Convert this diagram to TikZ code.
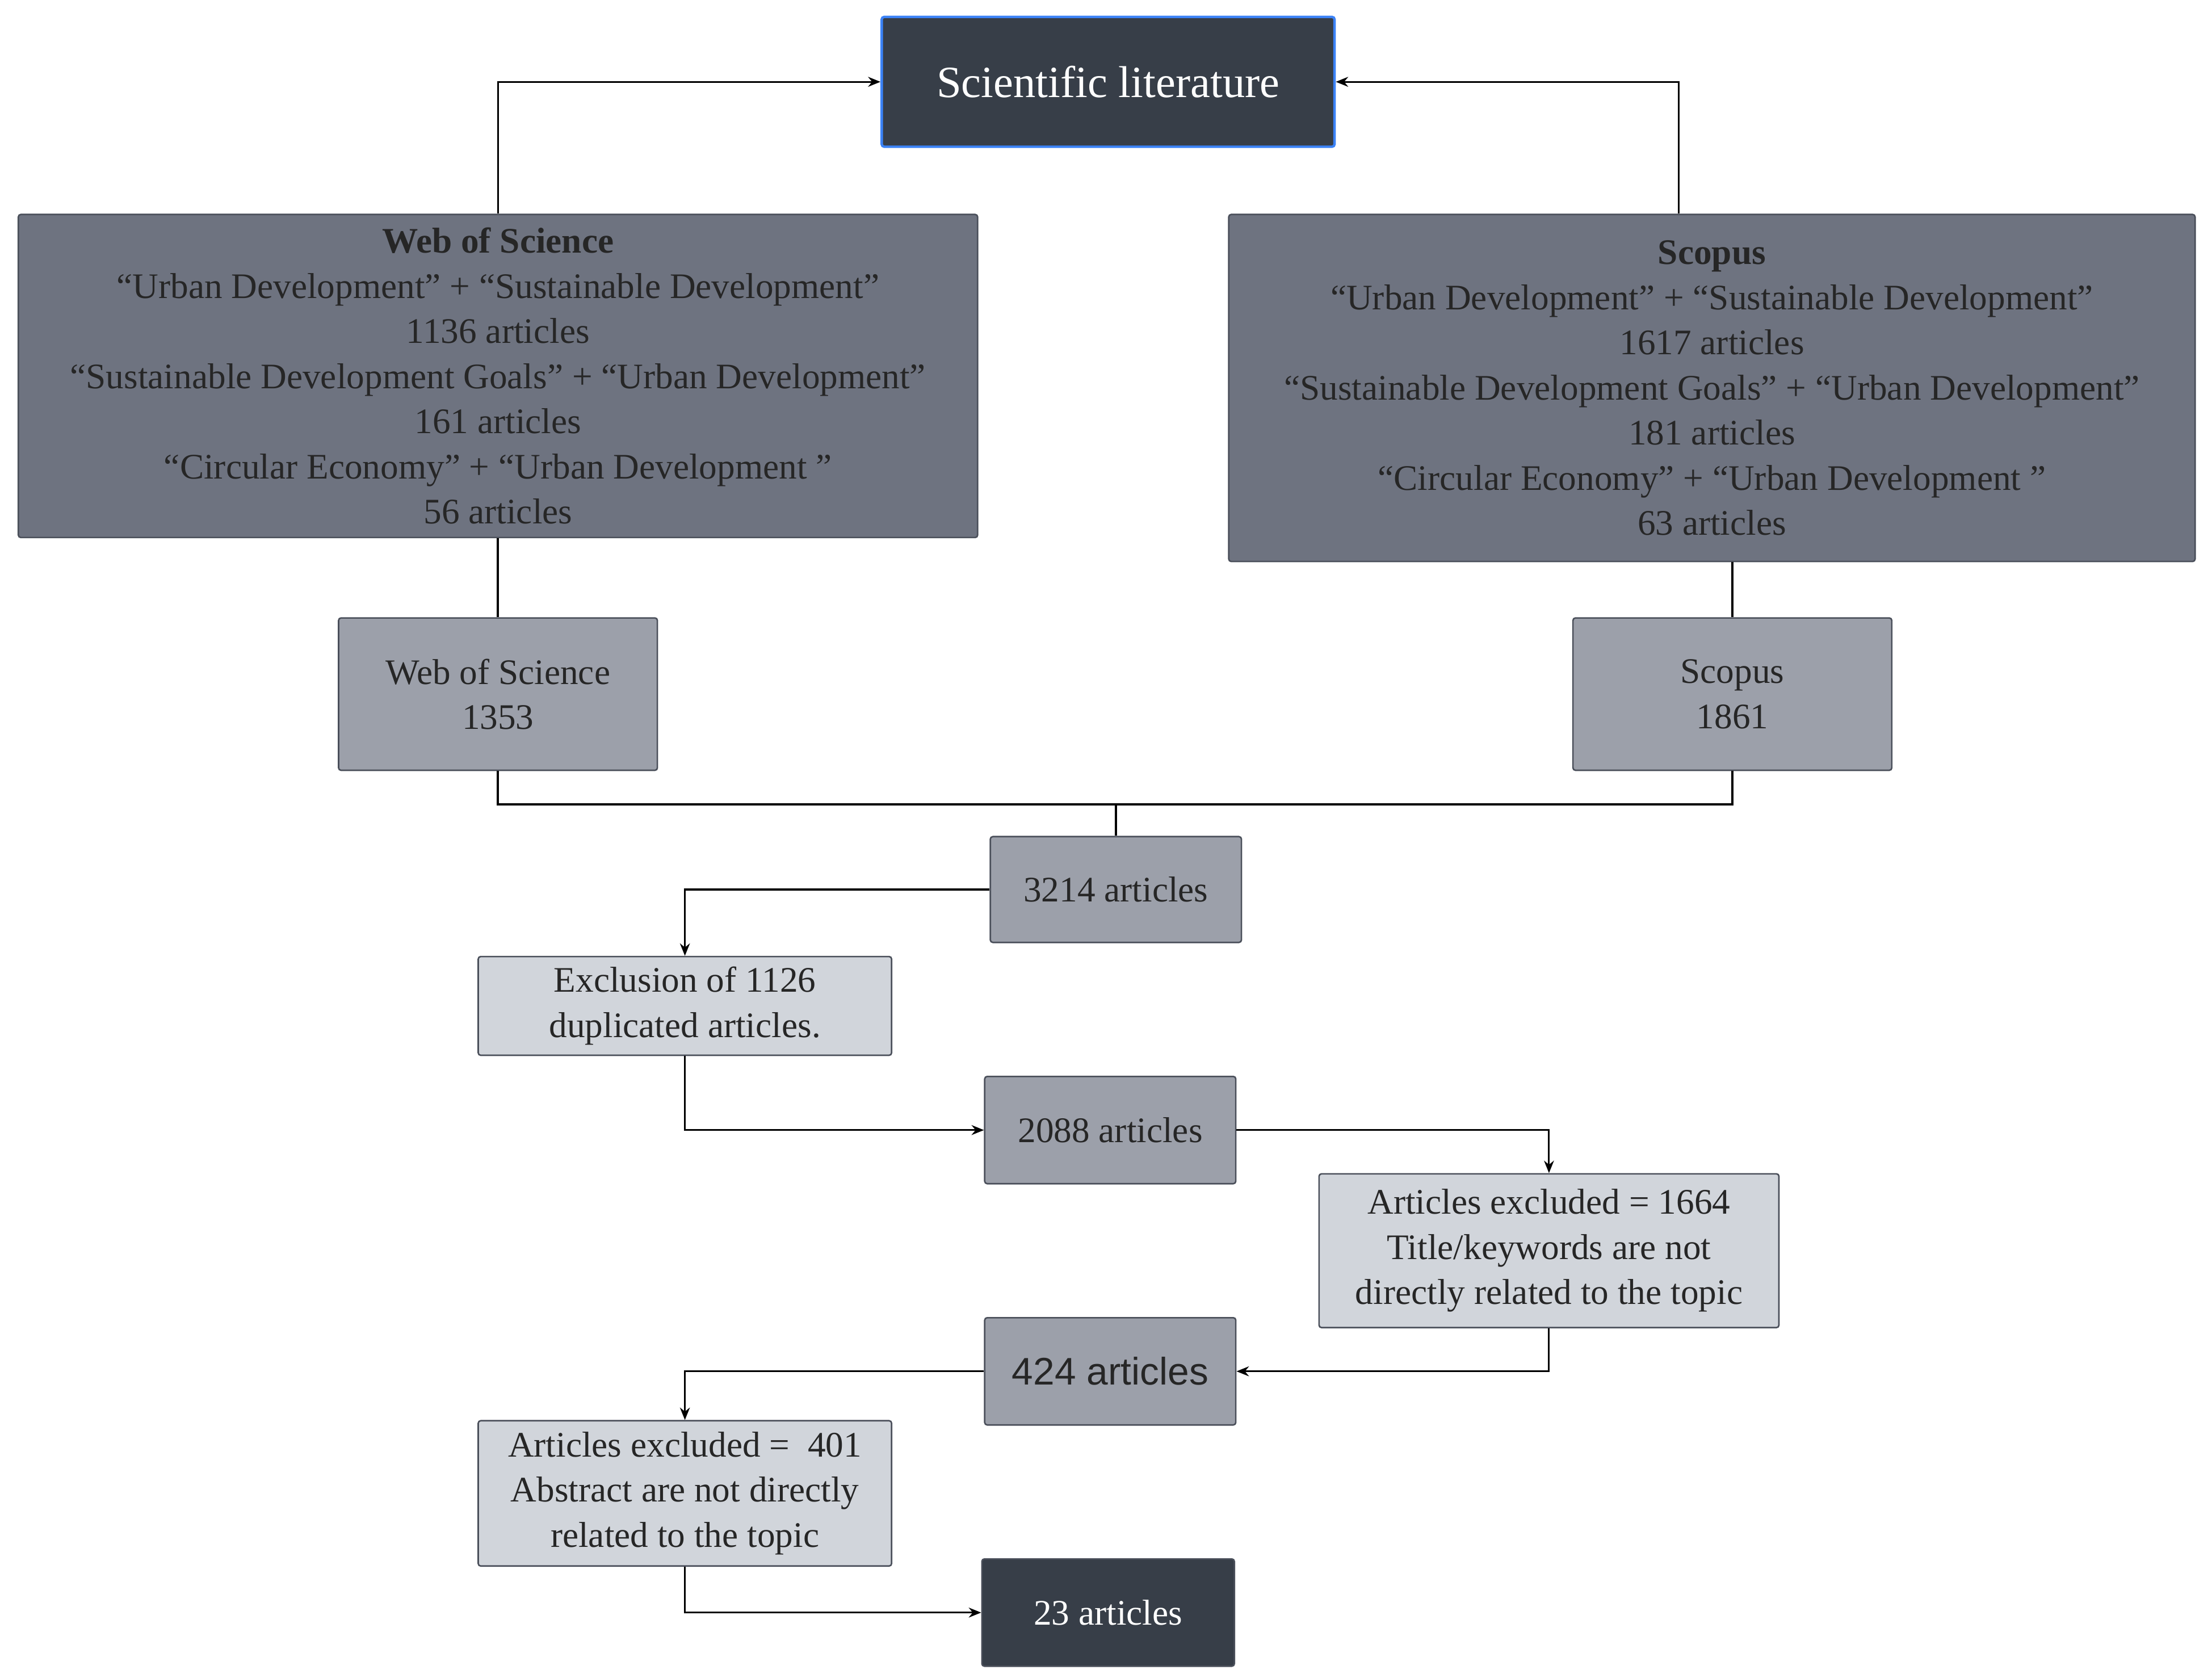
\documentclass[tikz,border=0pt]{standalone}
\usepackage{fontspec}
\setmainfont{Liberation Serif}
\newfontfamily\sansf{Liberation Sans}
\usetikzlibrary{arrows.meta}
\definecolor{dark}{HTML}{373E48}
\definecolor{mid}{HTML}{6E7380}
\definecolor{midl}{HTML}{9CA0AA}
\definecolor{light}{HTML}{D1D5DB}
\definecolor{bord}{HTML}{4A4F5A}
\definecolor{blueb}{HTML}{3B82F6}
\begin{document}
\begin{tikzpicture}[x=0.02cm,y=-0.02cm,
  box/.style={draw=bord,line width=0.6pt,rounded corners=1pt,align=center,inner sep=0pt,
    font=\fontsize{14.5}{18.2}\selectfont,text=black!85},
  arr/.style={-{Stealth[length=5pt,width=4pt]},line width=0.7pt},
  ln/.style={line width=0.9pt}]
\useasboundingbox (0,0) rectangle (1568,1189);
\node[box,fill=dark,draw=blueb,line width=1pt,text=white,font=\fontsize{18}{22}\selectfont,minimum width=321*0.02cm,minimum height=92*0.02cm] (sci) at (785.5,58) {Scientific literature};
\node[box,fill=mid,minimum width=680*0.02cm,minimum height=229*0.02cm] (wos) at (353,266.5) {\textbf{Web of Science}\\``Urban Development'' + ``Sustainable Development''\\1136 articles\\``Sustainable Development Goals'' + ``Urban Development''\\161 articles\\``Circular Economy'' + ``Urban Development ''\\56 articles};
\node[box,fill=mid,minimum width=685*0.02cm,minimum height=246*0.02cm] (sco) at (1213.5,275) {\textbf{Scopus}\\``Urban Development'' + ``Sustainable Development''\\1617 articles\\``Sustainable Development Goals'' + ``Urban Development''\\181 articles\\``Circular Economy'' + ``Urban Development ''\\63 articles};
\node[box,fill=midl,minimum width=226*0.02cm,minimum height=108*0.02cm] (wos2) at (353,492) {Web of Science\\1353};
\node[box,fill=midl,minimum width=226*0.02cm,minimum height=108*0.02cm] (sco2) at (1228,492) {Scopus\\1861};
\node[box,fill=midl,minimum width=178*0.02cm,minimum height=75*0.02cm] (a3214) at (791,630.5) {3214 articles};
\node[box,fill=light,minimum width=293*0.02cm,minimum height=70*0.02cm] (exc) at (485.5,713) {Exclusion of 1126\\duplicated articles.};
\node[box,fill=midl,minimum width=178*0.02cm,minimum height=76*0.02cm] (a2088) at (787,801) {2088 articles};
\node[box,fill=light,minimum width=326*0.02cm,minimum height=109*0.02cm] (e1664) at (1098,886.5) {Articles excluded = 1664\\Title/keywords are not\\directly related to the topic};
\node[box,fill=midl,minimum width=178*0.02cm,minimum height=76*0.02cm,font=\sansf\fontsize{15.5}{18}\selectfont] (a424) at (787,972) {424 articles};
\node[box,fill=light,minimum width=293*0.02cm,minimum height=103*0.02cm] (e401) at (485.5,1058.5) {Articles excluded = \ 401\\Abstract are not directly\\related to the topic};
\node[box,fill=dark,text=white,minimum width=179*0.02cm,minimum height=76*0.02cm] (a23) at (785.5,1143) {23 articles};
\draw[arr] (wos.north) |- (sci.west);
\draw[arr] (sco.north -| 1190,0) |- (sci.east);
\draw[ln] (wos.south) -- (wos2.north);
\draw[ln] (sco.south -| sco2.north) -- (sco2.north);
\coordinate (j) at (791,570);
\draw[ln] (wos2.south) |- (j) -| (sco2.south);
\draw[ln] (j) -- (a3214.north);
\draw[arr] (a3214.west) -| (exc.north);
\draw[arr] (exc.south) |- (a2088.west);
\draw[arr] (a2088.east) -| (e1664.north);
\draw[arr] (e1664.south) |- (a424.east);
\draw[arr] (a424.west) -| (e401.north);
\draw[arr] (e401.south) |- (a23.west);
\end{tikzpicture}
\end{document}
